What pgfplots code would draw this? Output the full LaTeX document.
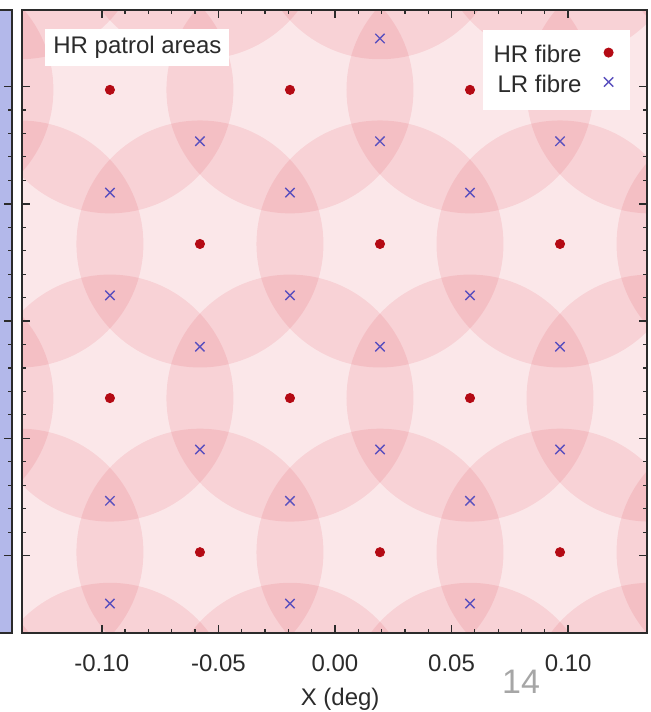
\documentclass[border=0pt]{standalone}
\usepackage{fontspec}
\setmainfont{Liberation Sans}
\usepackage{pgfplots}
\usepackage{pgfplotstable}
\pgfplotsset{compat=1.18}
\usetikzlibrary{calc}
\definecolor{hrred}{HTML}{B40A14}
\definecolor{lrblue}{HTML}{5A50BE}
\definecolor{patrol}{HTML}{DA1E31}
\definecolor{ink}{HTML}{2B2B2B}
\definecolor{paneltop}{HTML}{B3B8EA}
\definecolor{panelmid}{HTML}{959DE0}

% HR fibre positions inside the field
\pgfplotstableread{
x y
-0.0965 0.09855
-0.0193 0.09855
0.0579 0.09855
-0.0579 0.03285
0.0193 0.03285
0.0965 0.03285
-0.0965 -0.03285
-0.0193 -0.03285
0.0579 -0.03285
-0.0579 -0.09855
0.0193 -0.09855
0.0965 -0.09855
}\hrfib

% patrol circle centres, including neighbours just outside the field
\pgfplotstableread{
x y
-0.0965 0.09855
-0.0193 0.09855
0.0579 0.09855
-0.0579 0.03285
0.0193 0.03285
0.0965 0.03285
-0.0965 -0.03285
-0.0193 -0.03285
0.0579 -0.03285
-0.0579 -0.09855
0.0193 -0.09855
0.0965 -0.09855
-0.1737 0.09855
0.1351 0.09855
-0.1737 -0.03285
0.1351 -0.03285
-0.1737 -0.16425
-0.0965 -0.16425
-0.0193 -0.16425
0.0579 -0.16425
0.1351 -0.16425
-0.1351 0.16425
-0.0579 0.16425
0.0193 0.16425
0.0965 0.16425
0.1737 0.16425
-0.1351 0.03285
0.1737 0.03285
-0.1351 -0.09855
0.1737 -0.09855
}\patrolc

% LR fibre positions
\pgfplotstableread{
x y
-0.0579 0.12045
0.0193 0.12045
0.0965 0.12045
-0.0579 0.07665
0.0193 0.07665
0.0965 0.07665
-0.0965 0.05475
-0.0193 0.05475
0.0579 0.05475
-0.0965 0.01095
-0.0193 0.01095
0.0579 0.01095
-0.0579 -0.01095
0.0193 -0.01095
0.0965 -0.01095
-0.0579 -0.05475
0.0193 -0.05475
0.0965 -0.05475
-0.0965 -0.07665
-0.0193 -0.07665
0.0579 -0.07665
-0.0965 -0.12045
-0.0193 -0.12045
0.0579 -0.12045
}\lrfib

\begin{document}
\begin{tikzpicture}
% patrol areas: a wider hidden axis with the same scale, clipped to the field
\begin{scope}
\clip (0,0) rectangle (312.5pt,311.5pt);
\begin{axis}[at={(-81.62pt,-82.1pt)}, anchor=south west, scale only axis,
  width=475.74pt, height=475.7pt,
  xmin=-0.2042, xmax=0.2038, ymin=-0.2030, ymax=0.2026, hide axis]
\addplot[only marks, mark=*, mark size=61.75pt,
  mark options={draw opacity=0, fill=patrol, fill opacity=0.107}] table {\patrolc};
\end{axis}
\end{scope}

\begin{axis}[name=main, at={(0,0)}, anchor=south west,
  scale only axis, width=312.5pt, height=311.5pt,
  xmin=-0.1342, xmax=0.1338, ymin=-0.1330, ymax=0.1326,
  xtick={-0.1,-0.05,0,0.05,0.1}, minor x tick num=4,
  ytick={-0.1,-0.05,0,0.05,0.1}, minor y tick num=4, yticklabels={},
  xticklabel style={/pgf/number format/fixed, /pgf/number format/fixed zerofill,
    /pgf/number format/precision=2, /pgf/number format/assume math mode=true,
    anchor=base, yshift=-19.3pt},
  tick label style={font=\fontsize{12}{14}\selectfont, text=ink},
  axis line style={ink, line width=1pt},
  major tick style={ink, line width=0.8pt}, minor tick style={ink, line width=0.6pt},
  major tick length=4pt, minor tick length=2pt,
  clip marker paths=true,
  xlabel={X (deg)},
  xlabel style={at={(axis description cs:0.509,0)}, anchor=base, yshift=-36pt, font=\fontsize{12}{14}\selectfont, text=ink},
  legend style={at={(0.9728,0.9679)}, anchor=north east, draw=none, fill=white,
    inner xsep=3.5pt, inner ysep=5.5pt, row sep=0.5pt, column sep=9pt, font=\fontsize{12}{14}\selectfont,
    text=ink, cells={anchor=east}, nodes={inner sep=2pt, text depth=0.15em}},
  legend plot pos=right,
  legend image code/.code={\path[draw=none] (-2.5pt,0pt) (7pt,0pt); \draw[#1] plot coordinates {(0pt,1.5pt)};},
]
\addplot[only marks, mark=*, mark size=2.3pt, color=hrred] table {\hrfib};
\addlegendentry{HR fibre}
\addplot[only marks, mark=x, mark size=3.3pt, color=lrblue, line width=0.7pt] table {\lrfib};
\addlegendentry{LR fibre}
\node[anchor=north west, fill=white, inner xsep=4pt, inner ysep=3.5pt,
  font=\fontsize{12}{14}\selectfont, text=ink] at (axis description cs:0.0368,0.9695) {HR patrol areas};
\end{axis}

% edge of the neighbouring panel
\begin{axis}[at={(-5.2pt,0pt)}, anchor=south east,
  scale only axis, width=40pt, height=311.5pt,
  xmin=0, xmax=1, ymin=-0.1330, ymax=0.1326,
  xtick=\empty, ytick={-0.1,-0.05,0,0.05,0.1}, minor y tick num=4,
  yticklabels={}, ytick pos=right,
  axis line style={ink, line width=1pt},
  major tick style={ink, line width=0.8pt}, minor tick style={ink, line width=0.6pt},
  major tick length=4pt, minor tick length=2pt,
  axis background/.style={shade, top color=paneltop, middle color=panelmid, bottom color=paneltop},
]
\end{axis}

\node[anchor=base, text=black!35, font=\fontsize{17}{20}\selectfont] at ($(main.south west)+(249.5pt,-30pt)$) {14};

\pgfresetboundingbox
\path[use as bounding box] ($(main.south west)+(-11pt,-39.5pt)$) rectangle ($(main.north east)+(1.5pt,5pt)$);
\end{tikzpicture}
\end{document}
